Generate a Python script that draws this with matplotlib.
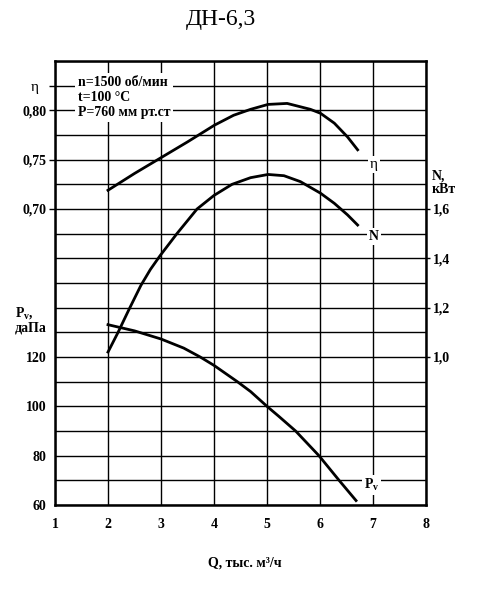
import matplotlib
matplotlib.use("Agg")
import matplotlib.pyplot as plt

plt.rcParams["font.family"] = ["Liberation Serif", "DejaVu Serif"]
plt.rcParams["font.weight"] = "bold"
plt.rcParams["mathtext.fontset"] = "custom"
plt.rcParams["mathtext.rm"] = "Liberation Serif:bold"
plt.rcParams["mathtext.bf"] = "Liberation Serif:bold"
plt.rcParams["mathtext.it"] = "Liberation Serif:bold:italic"

q_eta = [2.0, 2.5, 3.0, 3.5, 3.74, 4.01, 4.37, 4.69, 5.02, 5.38, 5.82, 6.01, 6.27, 6.52, 6.71]
eta = [0.719, 0.736, 0.752, 0.768, 0.776, 0.785, 0.795, 0.801, 0.806, 0.807, 0.801, 0.797, 0.787, 0.773, 0.760]

q_n = [2.0, 2.19, 2.39, 2.62, 2.8, 2.98, 3.3, 3.68, 4.0, 4.34, 4.69, 5.02, 5.32, 5.63, 6.01, 6.27, 6.52, 6.71]
n_kw = [1.02, 1.10, 1.19, 1.29, 1.355, 1.41, 1.50, 1.60, 1.655, 1.70, 1.727, 1.740, 1.735, 1.711, 1.664, 1.623, 1.576, 1.535]

q_pv = [2.0, 2.5, 3.0, 3.43, 3.74, 4.0, 4.44, 4.69, 5.0, 5.22, 5.54, 5.98, 6.36, 6.68]
pv = [133.1, 130.6, 127.3, 123.6, 120.0, 116.6, 110.0, 106.0, 100.0, 96.0, 90.0, 80.0, 70.0, 61.8]

x_ticks = [1, 2, 3, 4, 5, 6, 7, 8]
pv_ticks = [60, 80, 100, 120]
eta_ticks = [0.70, 0.75, 0.80]
n_ticks = [1.0, 1.2, 1.4, 1.6]

fig = plt.figure(figsize=(4.89, 5.98), dpi=100)
ax = fig.add_axes([55 / 489, 1 - 505 / 598, 371 / 489, 444 / 598])
ax_eta = ax.twinx()
ax_n = ax.twinx()

# Pv axis carries the grid
ax.set_xlim(1, 8)
ax.set_ylim(60, 240)
ax.set_xticks(range(1, 9))
ax.set_xticklabels([str(v) for v in x_ticks], fontsize=10)
ax.set_yticks(range(60, 241, 10))
ax.set_yticklabels([str(v) if v in pv_ticks else "" for v in range(60, 241, 10)], fontsize=10)
ax.tick_params(axis="x", length=0, pad=9)
ax.tick_params(axis="y", length=0, pad=6)
ax.grid(True, color="black", lw=1.0)
for s in ax.spines.values():
    s.set_linewidth(1.8)
ax.plot(q_pv, pv, color="black", lw=2.0, solid_joinstyle="round")

ax_eta.set_ylim(0.40, 0.85)
ax_eta.yaxis.tick_left()
ax_eta.set_yticks(eta_ticks + [0.825])
ax_eta.set_yticklabels([f"{v:.2f}".replace(".", ",") for v in eta_ticks] + [""], fontsize=10)
ax_eta.tick_params(axis="y", length=4, width=1.0, pad=2)
ax_eta.plot(q_eta, eta, color="black", lw=2.0, solid_joinstyle="round")

ax_n.set_ylim(0.4, 2.2)
ax_n.set_yticks(n_ticks)
ax_n.set_yticklabels([f"{v:.1f}".replace(".", ",") for v in n_ticks], fontsize=10)
ax_n.tick_params(axis="y", length=3, width=1.0, pad=2)
ax_n.plot(q_n, n_kw, color="black", lw=2.0, solid_joinstyle="round")

for a in (ax_eta, ax_n):
    for s in a.spines.values():
        s.set_visible(False)

box = dict(fc="white", ec="none", pad=1.5)
ax_eta.text(7.02, 0.745, "η", ha="center", va="center", fontsize=11, fontweight="normal", bbox=box)
ax_n.text(7.02, 1.488, "N", ha="center", va="center", fontsize=10, bbox=box)
ax_n.text(6.97, 68, r"P$_\mathrm{v}$", ha="center", va="center", fontsize=10, bbox=box,
          transform=ax.transData)

ax_n.text(0.062, 0.966, "n=1500 об/мин\nt=100 °C\nP=760 мм рт.ст", transform=ax_n.transAxes,
          ha="left", va="top", fontsize=10, linespacing=1.22,
          bbox=dict(fc="white", ec="none", pad=2))

fig.text(221 / 489, 1 - 19 / 598, "ДН-6,3", ha="center", va="center", fontsize=17, fontweight="normal")
fig.text(35 / 489, 1 - 88 / 598, "η", ha="center", va="center", fontsize=11, fontweight="normal")
fig.text(15 / 489, 1 - 320 / 598, "P$_\\mathrm{v}$,\nдаПа", ha="left", va="center", fontsize=10, linespacing=1.0)
fig.text(432 / 489, 1 - 183 / 598, "N,\nкВт", ha="left", va="center", fontsize=10, linespacing=1.0)
fig.text(245 / 489, 1 - 563 / 598, "Q, тыс. м³/ч", ha="center", va="center", fontsize=10)

fig.savefig("out.png", dpi=100)
